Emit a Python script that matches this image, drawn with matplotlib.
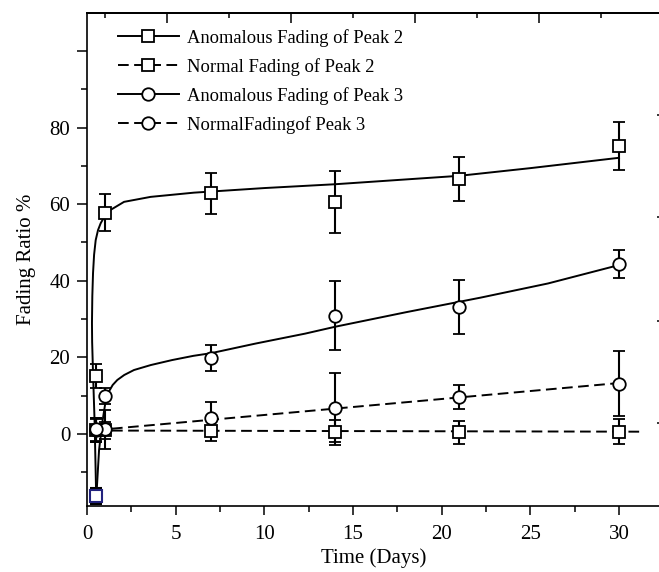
import matplotlib
matplotlib.use("Agg")
import matplotlib.pyplot as plt
from matplotlib.lines import Line2D

plt.rcParams['font.family'] = ['Liberation Serif', 'DejaVu Serif']

# measured points (days, %)
days = [0.5, 1, 7, 14, 21, 30]

anom2 = [15.1, 57.8, 62.8, 60.5, 66.6, 75.2]
anom2_err = [3.2, 4.9, 5.4, 8.1, 5.8, 6.2]
norm2 = [1.0, 1.0, 0.9, 0.4, 0.4, 0.6]
norm2_err = [3.0, 2.2, 2.7, 3.2, 3.0, 3.3]
anom3 = [1.2, 9.9, 19.8, 30.9, 33.1, 44.4]
anom3_err = [3.0, 2.0, 3.4, 9.0, 7.1, 3.6]
norm3 = [1.0, 1.2, 4.3, 6.9, 9.7, 13.1]
norm3_err = [3.2, 5.0, 4.0, 9.0, 3.2, 8.5]

# stray point drawn in blue
odd_x = [0.5]
odd_y = [-16.2]
odd_err = [2.0]

# fitted curves
fit2_x = [0.51, 0.43, 0.34, 0.29, 0.28, 0.30, 0.34, 0.40, 0.49, 0.62, 0.77, 1.0, 1.33, 2.09,
          3.59, 6.03, 10, 14, 21, 25, 30]
fit2_y = [-14.6, 2.9, 15.9, 24.0, 29.0, 36.0, 42.0, 46.8, 50.6, 53.2, 55.0, 56.9, 58.5, 60.6,
          61.9, 63.0, 64.2, 65.2, 67.4, 69.4, 72.1]
fit3_x = [0.55, 0.68, 0.86, 1.05, 1.25, 1.45, 1.71, 2.1, 2.65, 3.6, 4.8, 6.0, 7.0, 9.5,
          12.3, 14, 18, 22.2, 26, 30]
fit3_y = [-14.5, -4.2, 2.9, 8.6, 11.2, 12.8, 14.1, 15.4, 16.7, 18.0, 19.3, 20.4, 21.1, 23.6,
          26.2, 28.0, 31.8, 35.6, 39.3, 44.1]
lin2_x = [0.5, 31.2]
lin2_y = [0.9, 0.6]
lin3_x = [0.5, 30]
lin3_y = [1.0, 13.3]

labels = ['Anomalous Fading of Peak 2', 'Normal Fading of Peak 2',
          'Anomalous Fading of Peak 3', 'NormalFadingof Peak 3']

fig = plt.figure(figsize=(6.59, 5.72), dpi=100)
ax = fig.add_axes([87 / 659, 66 / 572, 573.5 / 659, 493 / 572])

dash = (5.5, 2.8)
lw = 1.4
ax.plot(fit2_x, fit2_y, color='k', lw=lw, zorder=2)
ax.plot(fit3_x, fit3_y, color='k', lw=lw, zorder=2)
ax.plot(lin2_x, lin2_y, color='k', lw=lw, ls=(0, dash), zorder=2)
ax.plot(lin3_x, lin3_y, color='k', lw=lw, ls=(0, dash), zorder=2)

ebkw = dict(ls='none', ecolor='k', elinewidth=1.5, capsize=4.5, capthick=1.5,
            mec='k', mfc='white', mew=1.3, zorder=3)
ax.errorbar(days, norm2, yerr=norm2_err, marker='s', ms=8, **ebkw)
ax.errorbar(days, norm3, yerr=norm3_err, marker='o', ms=9, **ebkw)
ax.errorbar(days, anom2, yerr=anom2_err, marker='s', ms=8, **ebkw)
ax.errorbar(days, anom3, yerr=anom3_err, marker='o', ms=9, **ebkw)
ax.errorbar(odd_x, odd_y, yerr=odd_err, marker='s', ms=8, ls='none', ecolor='k',
            elinewidth=1.5, capsize=4.5, capthick=1.5, mec='#23237e', mfc='white',
            mew=1.5, zorder=4)

ax.set_xlim(0, 32.34)
ax.set_ylim(-18.8, 109.9)
ax.set_xticks([0, 5, 10, 15, 20, 25, 30])
ax.set_xticks([2.5, 7.5, 12.5, 17.5, 22.5, 27.5], minor=True)
ax.set_yticks([0, 20, 40, 60, 80, 100])
ax.set_yticklabels(['0', '20', '40', '60', '80', ''])
ax.set_yticks([-10, 10, 30, 50, 70, 90], minor=True)
ax.tick_params(axis='x', which='major', direction='out', length=6.5, width=1.1, labelsize=15, pad=7)
ax.tick_params(axis='x', which='minor', direction='out', length=4.3, width=1.1)
ax.tick_params(axis='y', which='major', direction='out', length=7, width=1.1, labelsize=15, pad=5)
ax.tick_params(axis='y', which='minor', direction='out', length=4.3, width=1.1)
ax.spines['right'].set_visible(False)
for s in ['left', 'bottom', 'top']:
    ax.spines[s].set_linewidth(1.2)

ax.set_xlabel('Time (Days)', fontsize=15, labelpad=3.5)
ax.set_ylabel('Fading Ratio %', fontsize=15, labelpad=10)

# extra tick marks on the top and right edges
top = ax.twiny()
top.set_xlim(ax.get_xlim())
top.set_xticks([4.5, 11.5, 18.5, 25.5])
top.set_xticks([1, 8, 15, 22, 29], minor=True)
top.tick_params(which='major', direction='in', length=7, width=1.1, labeltop=False)
top.tick_params(which='minor', direction='in', length=3.6, width=1.1)
right = ax.twinx()
right.set_ylim(ax.get_ylim())
right.set_yticks([2.9, 29.5, 56.6, 83.3])
right.tick_params(direction='in', length=3, width=1.1, labelright=False)
for a in (top, right):
    a.spines['right'].set_visible(False)
    a.spines['left'].set_visible(False)
    a.spines['bottom'].set_visible(False)
    a.spines['top'].set_linewidth(1.2)

handles = [
    Line2D([], [], color='k', lw=lw, marker='s', ms=8, mfc='white', mew=1.3),
    Line2D([], [], color='k', lw=lw, ls=(0, dash), marker='s', ms=8, mfc='white', mew=1.3),
    Line2D([], [], color='k', lw=lw, marker='o', ms=9, mfc='white', mew=1.3),
    Line2D([], [], color='k', lw=lw, ls=(0, dash), marker='o', ms=9, mfc='white', mew=1.3),
]
right.legend(handles, labels, loc='upper left', bbox_to_anchor=(0.054, 0.968),
             frameon=False, fontsize=13.3, handlelength=3.3, handletextpad=0.45,
             labelspacing=0.6, borderpad=0, borderaxespad=0, numpoints=1)

fig.savefig('out.png', dpi=100)
